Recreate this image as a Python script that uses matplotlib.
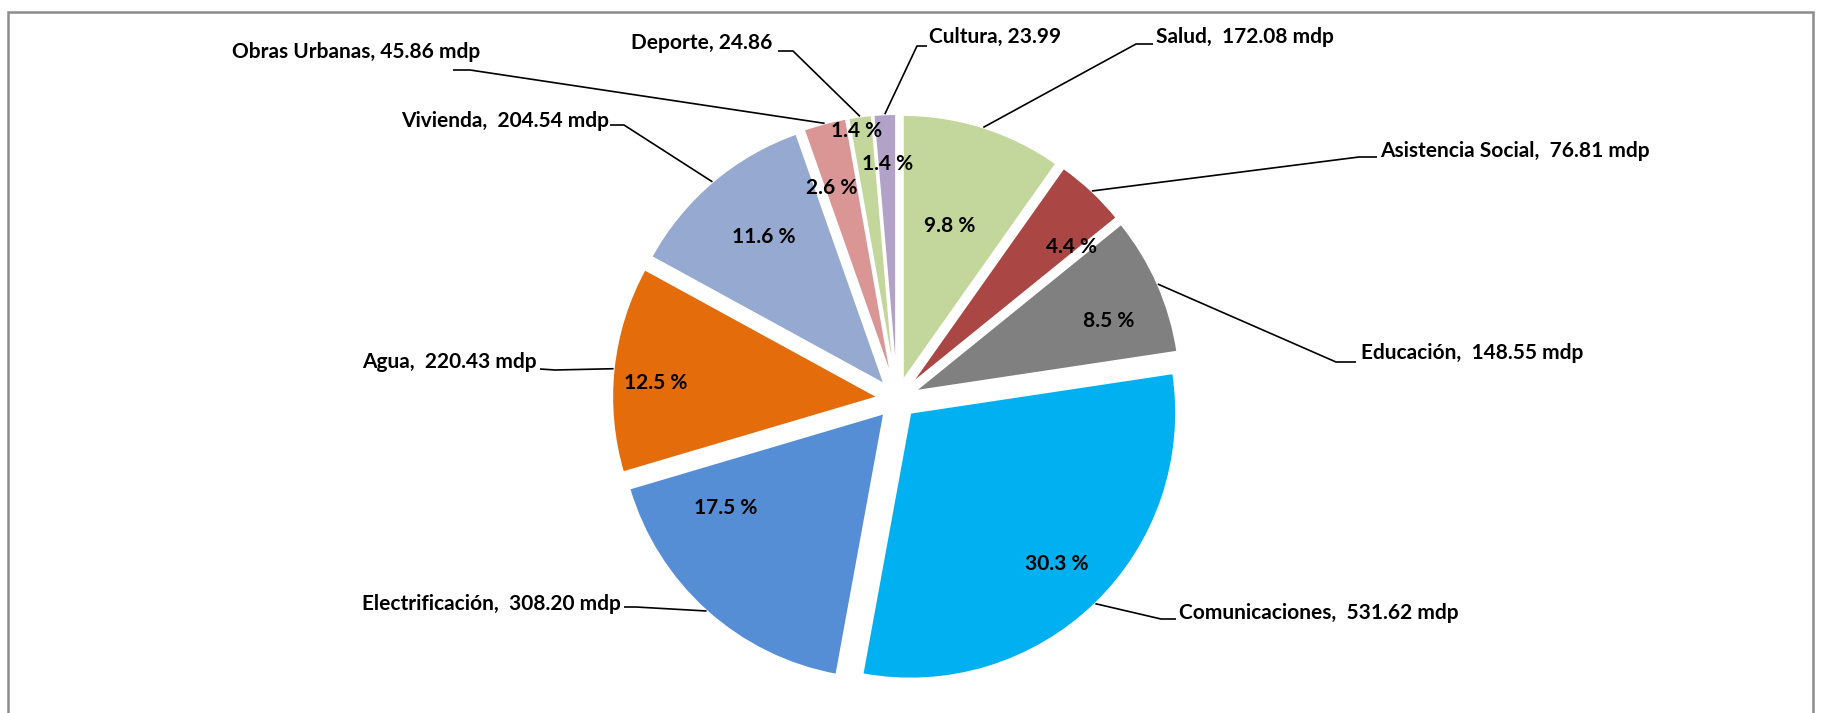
import numpy as np
import matplotlib
matplotlib.use('Agg')
import matplotlib.pyplot as plt
from matplotlib.patches import Rectangle

plt.rcParams['font.family'] = ['Lato', 'DejaVu Sans']

# datos (millones de pesos)
categories = ['Salud', 'Asistencia Social', 'Educación', 'Comunicaciones',
              'Electrificación', 'Agua', 'Vivienda', 'Obras Urbanas',
              'Deporte', 'Cultura']
amounts = [172.08, 76.81, 148.55, 531.62, 308.20, 220.43, 204.54, 45.86,
           24.86, 23.99]
units = [' mdp', ' mdp', ' mdp', ' mdp', ' mdp', ' mdp', ' mdp', ' mdp', '', '']
separators = [',  ', ',  ', ',  ', ',  ', ',  ', ',  ', ',  ', ', ', ', ', ', ']
colors = ['#C3D69B', '#AA4643', '#808080', '#00B0F0', '#558ED5', '#E46C0A',
          '#95A9D1', '#D99694', '#C3D69B', '#B3A2C7']

W, H = 1821, 713
cx, cy = 897, 399
R = 266
EXPL = 19  # pie() desplaza en unidades de datos

# layout en pixeles de la imagen (y hacia abajo)
text_pos = [(1156, 37, 'left'), (1380, 151, 'left'), (1361, 353, 'left'),
            (1179, 613, 'left'), (621, 604, 'right'), (537, 362, 'right'),
            (609, 121, 'right'), (480, 52, 'right'), (772, 43, 'right'),
            (929, 37, 'left')]
elbows = [((1136, 44), (1153, 44)), ((1359, 157), (1377, 157)),
          ((1336, 362), (1356, 362)), ((1161, 619), (1176, 619)),
          ((636, 607), (624, 607)), ((555, 370), (540, 369)),
          ((624, 125), (610, 125)), ((470, 70), (453, 70)),
          ((793, 51), (778, 51)), ((917, 46), (927, 46))]
pct_pos = [(950, 226), (1071, 247), (1109, 321), (1057, 564), (726, 508),
           (656, 383), (764, 237), (832, 188), (857, 131), (888, 164)]

fig = plt.figure(figsize=(W / 100, H / 100), dpi=100)
ax = fig.add_axes([0, 0, 1, 1])

ax.pie(amounts, colors=colors, startangle=90, counterclock=False,
       center=(cx, H - cy), radius=R, explode=[EXPL] * len(amounts),
       wedgeprops=dict(edgecolor='white', linewidth=1.5))

total = sum(amounts)
fs = 15
start = 90.0
for i, name in enumerate(categories):
    frac = amounts[i] / total
    mid = np.deg2rad(start - frac * 360 / 2)
    start -= frac * 360
    # punto de anclaje sobre el arco de la rebanada desplazada
    ax_x = cx + (R + EXPL) * np.cos(mid)
    ax_y = (H - cy) + (R + EXPL) * np.sin(mid)
    (ex, ey), (tx2, ty2) = elbows[i]
    ax.plot([ax_x, ex, tx2], [ax_y, H - ey, H - ty2], color='black', lw=1.2,
            solid_capstyle='butt', zorder=3)
    x, y, ha = text_pos[i]
    label = f'{name}{separators[i]}{amounts[i]:.2f}{units[i]}'
    ax.text(x, H - y, label, ha=ha, va='center', fontsize=fs,
            fontweight='bold', color='black')
    px, py = pct_pos[i]
    ax.text(px, H - py, f'{frac * 100:.1f} %', ha='center', va='center',
            fontsize=fs, fontweight='bold', color='black', zorder=4)

ax.add_patch(Rectangle((8, -20), 1805, H - 12 + 20, fill=False,
                       edgecolor='#8C8C8C', linewidth=1.8))

ax.set_xlim(0, W)
ax.set_ylim(0, H)
ax.set_aspect('equal')
ax.axis('off')

fig.savefig('out.png', dpi=100)
